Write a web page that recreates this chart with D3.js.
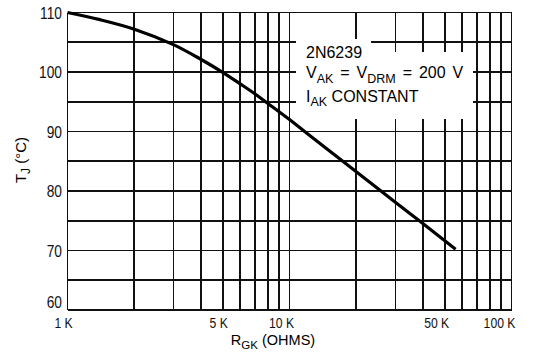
<!DOCTYPE html>
<html><head><meta charset="utf-8">
<script src="https://cdn.jsdelivr.net/npm/d3@7"></script>
<style>
html,body{margin:0;padding:0;background:#fff;}
svg{display:block;}
.reg{font-family:"Liberation Sans",Arial,Helvetica,sans-serif;}
</style>
</head><body>
<script>
// data
const rgkOhms = [1000,1400,2000,3000,4000,5000,6000,7000,8000,10000,11700,17500,26000,38700,56000];
const tjC     = [110,108.8,107.2,104.6,102.1,99.95,98.0,96.3,94.7,92.0,90.0,84.9,79.9,74.9,70.2];
const xTickVals = [1000,5000,10000,50000,100000];
const xTickLabels = ["1 K","5 K","10 K","50 K","100 K"];
const yTickVals = [60,70,80,90,100,110];
const yTickLabels = ["60","70","80","90","100","110"];

const W=535,H=354;
const svg=d3.select("body").append("svg").attr("width",W).attr("height",H);
const x=d3.scaleLog().domain([1000,100000]).range([67.5,511.5]);
const y=d3.scaleLinear().domain([60,110]).range([310,12.5]);

const gridX=[];
for(let d=1000; d<100000; d*=10){ for(let m=1;m<10;m++) gridX.push(d*m); }
gridX.push(100000);
const gridY=d3.range(60,111,5);

const g=svg.append("g").attr("stroke","#111").attr("stroke-width",1.8).attr("shape-rendering","crispEdges");
g.selectAll("line.v").data(gridX).join("line").attr("class","v")
  .attr("x1",d=>x(d)).attr("x2",d=>x(d)).attr("y1",y(60)).attr("y2",y(110));
g.selectAll("line.h").data(gridY).join("line").attr("class","h")
  .attr("x1",x(1000)).attr("x2",x(100000)).attr("y1",d=>y(d)).attr("y2",d=>y(d));

// annotation box (white cut-out in the grid)
const bx0=296,bx1=473,by0=39,by1=119;
svg.append("rect").attr("x",bx0).attr("y",by0).attr("width",bx1-bx0).attr("height",by1-by0).attr("fill","#fff");
const g2=svg.append("g").attr("stroke","#111").attr("stroke-width",1.8).attr("shape-rendering","crispEdges");
g2.append("line").attr("x1",371).attr("x2",bx1).attr("y1",y(105)).attr("y2",y(105));
g2.selectAll("line.s").data(gridX.filter(d=>x(d)>371&&x(d)<bx1)).join("line").attr("class","s")
  .attr("x1",d=>x(d)).attr("x2",d=>x(d)).attr("y1",by0).attr("y2",y(105)+9.5);

// curve
const pts=rgkOhms.map((r,i)=>[x(r),y(tjC[i])]);
svg.append("path").attr("d",d3.line().curve(d3.curveCatmullRom)(pts))
  .attr("fill","none").attr("stroke","#000").attr("stroke-width",3.2).attr("stroke-linecap","butt");

// y tick labels (condensed look)
svg.selectAll("text.yt").data(yTickVals).join("text").attr("class","yt reg")
  .attr("transform",d=>`translate(62,${y(d)+(d===60?-2:6)}) scale(0.86,1)`).attr("text-anchor","end")
  .attr("font-size",16).attr("fill","#111").text((d,i)=>yTickLabels[i]);
// x tick labels
svg.selectAll("text.xt").data(xTickVals).join("text").attr("class","xt reg")
  .attr("transform",(d,i)=>`translate(${x(d)-(xTickLabels[i].length-2)*4},328) scale(0.84,1)`).attr("text-anchor","middle")
  .attr("font-size",14.5).attr("fill","#111").text((d,i)=>xTickLabels[i]);

// axis titles
const xt=svg.append("text").attr("class","reg").attr("x",273).attr("y",345).attr("text-anchor","middle").attr("font-size",14.5);
xt.append("tspan").text("R");
xt.append("tspan").attr("font-size",11.5).attr("dy",4).text("GK");
xt.append("tspan").attr("dy",-4).text(" (OHMS)");

const yt=svg.append("text").attr("class","reg").attr("transform","translate(26,160) rotate(-90)").attr("text-anchor","middle").attr("font-size",15);
yt.append("tspan").text("T");
yt.append("tspan").attr("font-size",12).attr("dy",4).text("J");
yt.append("tspan").attr("dy",-4).text(" (°C)");

// annotation
const ann=svg.append("g").attr("class","reg").attr("font-size",16);
ann.append("text").attr("x",306).attr("y",57.5).text("2N6239");
const l2=ann.append("text").attr("x",306).attr("y",78).attr("word-spacing",2.5);
l2.append("tspan").text("V");
l2.append("tspan").attr("font-size",12.5).attr("dy",5).text("AK");
l2.append("tspan").attr("dy",-5).text(" = V");
l2.append("tspan").attr("font-size",12.5).attr("dy",5).text("DRM");
l2.append("tspan").attr("dy",-5).text(" = 200 V");
const l3=ann.append("text").attr("x",306).attr("y",102);
l3.append("tspan").text("I");
l3.append("tspan").attr("font-size",12.5).attr("dy",4).text("AK");
l3.append("tspan").attr("dy",-4).text(" CONSTANT");
</script>
</body></html>
